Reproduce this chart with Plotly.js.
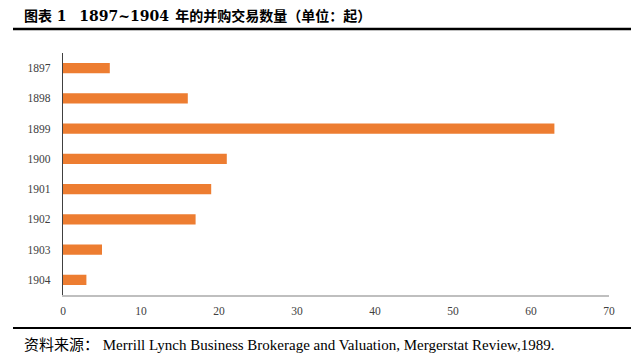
<!DOCTYPE html>
<html>
<head>
<meta charset="utf-8">
<script src="https://cdn.plot.ly/plotly-3.0.1.min.js"></script>
<style>html,body{margin:0;padding:0;background:#fff;}#chart{width:640px;height:363px;}</style>
</head>
<body>
<div id="chart"></div>
<script>
var years = ['1897','1898','1899','1900','1901','1902','1903','1904'];
var deals = [6, 16, 63, 21, 19, 17, 5, 3];
var xTicks = [0, 10, 20, 30, 40, 50, 60, 70];
var titleLabel = '图表';
var titleNum = '1';
var titleRange = '1897~1904';
var titleRest = '年的并购交易数量（单位：起）';
var sourceLabel = '资料来源：';
var sourceText = 'Merrill Lynch Business Brokerage and Valuation, Mergerstat Review,1989.';

var W = 640, H = 363;
var plotL = 63, plotR = W - 31, plotT = 53, plotB = H - 68;
function pxPlot(p){ return (p - plotL) / (plotR - plotL); }
function pyPlot(p){ return (plotB - p) / (plotB - plotT); }

var trace = {
  type: 'bar',
  orientation: 'h',
  y: years,
  x: deals,
  marker: {color: '#ED7D31'},
  width: 0.34,
  hoverinfo: 'none'
};

var numStyle = 'font-family:DejaVu Serif, serif;';
var titleHtml = '<b>' + titleLabel + '<span style="' + numStyle + '">\u00a0' + titleNum + '</span>' +
  '\u00a0\u00a0\u00a0\u00a0<span style="' + numStyle + '">' + titleRange + '</span>\u00a0\u00a0' + titleRest + '</b>';
var sourceHtml = sourceLabel + '\u00a0' + sourceText;

var layout = {
  width: W, height: H,
  margin: {l: plotL, r: W - plotR, t: plotT, b: H - plotB, pad: 0},
  paper_bgcolor: '#fff', plot_bgcolor: '#fff',
  showlegend: false,
  font: {family: 'Liberation Serif, serif', color: '#404040', size: 11},
  xaxis: {
    range: [0, 70], tickvals: xTicks, ticktext: xTicks.map(String),
    showgrid: false, zeroline: false,
    showline: true, linecolor: '#bfbfbf', linewidth: 1.5,
    ticks: '', ticklabelstandoff: 5,
    tickfont: {family: 'Liberation Serif, serif', size: 11.5, color: '#404040'},
    fixedrange: true
  },
  yaxis: {
    type: 'category', autorange: 'reversed',
    showgrid: false, zeroline: false,
    showline: true, linecolor: '#404040', linewidth: 1.2,
    ticks: '', ticklabelstandoff: 9,
    tickfont: {family: 'Liberation Serif, serif', size: 11.5, color: '#404040'},
    fixedrange: true
  },
  shapes: [
    {type: 'line', xref: 'paper', yref: 'paper', x0: pxPlot(13), x1: pxPlot(631), y0: pyPlot(29), y1: pyPlot(29),
     line: {color: '#000', width: 2.5}},
    {type: 'line', xref: 'paper', yref: 'paper', x0: pxPlot(13), x1: pxPlot(631), y0: pyPlot(328), y1: pyPlot(328),
     line: {color: '#000', width: 2}}
  ],
  annotations: [
    {xref: 'paper', yref: 'paper', x: pxPlot(22), y: pyPlot(15), xanchor: 'left', yanchor: 'middle',
     text: titleHtml, showarrow: false,
     font: {family: 'Noto Sans CJK SC, sans-serif', size: 14, color: '#000'}},
    {xref: 'paper', yref: 'paper', x: pxPlot(22), y: pyPlot(345), xanchor: 'left', yanchor: 'middle',
     text: sourceHtml, showarrow: false,
     font: {family: 'Liberation Serif, Noto Sans CJK SC, serif', size: 15, color: '#000'}}
  ]
};

Plotly.newPlot('chart', [trace], layout, {staticPlot: true, displayModeBar: false});
</script>
</body>
</html>
